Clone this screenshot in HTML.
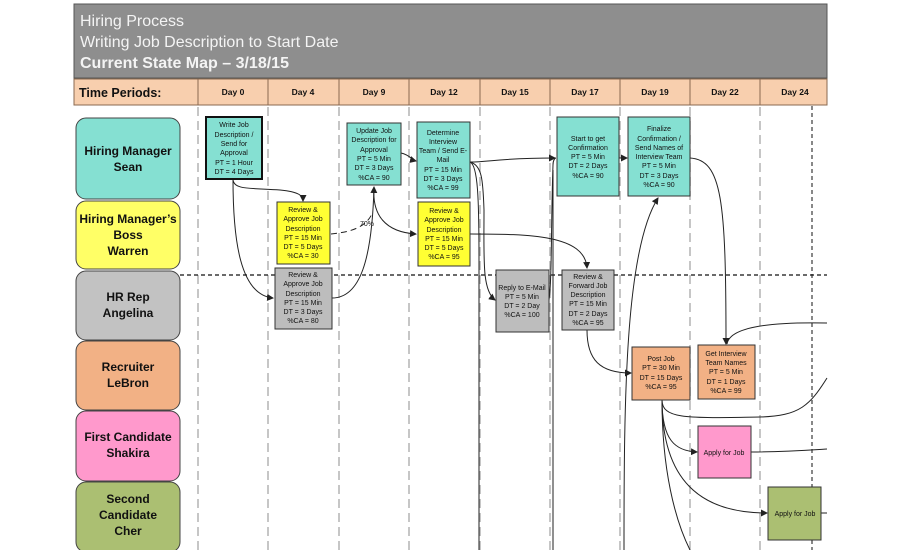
<!DOCTYPE html>
<html><head><meta charset="utf-8"><style>
html,body{margin:0;padding:0;background:#fff;width:900px;height:550px;overflow:hidden}
svg{display:block}
text{font-family:"Liberation Sans",sans-serif}
.b{font-size:7px;fill:#111;text-anchor:middle}
.lane{font-size:12px;font-weight:bold;fill:#111;text-anchor:middle}
.day{font-size:8.5px;font-weight:bold;fill:#111;text-anchor:middle}
.c{fill:none;stroke:#222;stroke-width:1}
</style></head><body>
<svg width="900" height="550" viewBox="0 0 900 550">
<defs><marker id="a" markerWidth="7" markerHeight="7" refX="6" refY="3.5" orient="auto"><path d="M0,0 L7,3.5 L0,7 z" fill="#222"/></marker></defs>
<rect x="0" y="0" width="900" height="550" fill="#fff"/>
<rect x="74" y="4" width="753" height="74" fill="#8e8e8e" stroke="#555"/>
<text x="80" y="26" font-size="16" fill="#f4f4f4">Hiring Process</text>
<text x="80" y="47" font-size="16" fill="#f4f4f4">Writing Job Description to Start Date</text>
<text x="80" y="68" font-size="16" font-weight="bold" fill="#f4f4f4">Current State Map – 3/18/15</text>
<g fill="#f8cfae" stroke="#8a6a50" stroke-width="1">
<rect x="74" y="79" width="124" height="26"/>
<rect x="198" y="79" width="70" height="26"/><rect x="268" y="79" width="71" height="26"/>
<rect x="339" y="79" width="70" height="26"/><rect x="409" y="79" width="71" height="26"/>
<rect x="480" y="79" width="70" height="26"/><rect x="550" y="79" width="70" height="26"/>
<rect x="620" y="79" width="70" height="26"/><rect x="690" y="79" width="70" height="26"/>
<rect x="760" y="79" width="67" height="26"/>
</g>
<text x="79" y="97" font-size="12.5" font-weight="bold" fill="#111">Time Periods:</text>
<text class="day" x="233" y="95">Day 0</text><text class="day" x="303" y="95">Day 4</text>
<text class="day" x="374" y="95">Day 9</text><text class="day" x="444" y="95">Day 12</text>
<text class="day" x="515" y="95">Day 15</text><text class="day" x="585" y="95">Day 17</text>
<text class="day" x="655" y="95">Day 19</text><text class="day" x="725" y="95">Day 22</text>
<text class="day" x="795" y="95">Day 24</text>
<g stroke="#b4b4b4" stroke-width="1.5" stroke-dasharray="9,5">
<line x1="198" y1="107" x2="198" y2="550"/><line x1="268" y1="107" x2="268" y2="550"/>
<line x1="339" y1="107" x2="339" y2="550"/><line x1="409" y1="107" x2="409" y2="550"/>
<line x1="480" y1="107" x2="480" y2="550"/><line x1="550" y1="107" x2="550" y2="550"/>
<line x1="620" y1="107" x2="620" y2="550"/><line x1="690" y1="107" x2="690" y2="550"/>
<line x1="760" y1="107" x2="760" y2="550"/>
</g>
<line x1="812" y1="106" x2="812" y2="550" stroke="#111" stroke-dasharray="4,3"/>
<line x1="180" y1="275" x2="827" y2="275" stroke="#111" stroke-width="1.2" stroke-dasharray="4,3"/>
<g stroke="#444" stroke-width="1">
<rect x="76" y="118" width="104" height="81" rx="10" fill="#85e0d2"/>
<rect x="76" y="201" width="104" height="68" rx="10" fill="#ffff66"/>
<rect x="76" y="271" width="104" height="69" rx="10" fill="#c2c2c2"/>
<rect x="76" y="341" width="104" height="69" rx="10" fill="#f2b185"/>
<rect x="76" y="411" width="104" height="70" rx="10" fill="#ff99cc"/>
<rect x="76" y="482" width="104" height="70" rx="10" fill="#abbf72"/>
</g>
<text class="lane" x="128" y="155">Hiring Manager</text><text class="lane" x="128" y="171">Sean</text>
<text class="lane" x="128" y="223">Hiring Manager’s</text><text class="lane" x="128" y="239">Boss</text><text class="lane" x="128" y="255">Warren</text>
<text class="lane" x="128" y="301">HR Rep</text><text class="lane" x="128" y="317">Angelina</text>
<text class="lane" x="128" y="371">Recruiter</text><text class="lane" x="128" y="387">LeBron</text>
<text class="lane" x="128" y="441">First Candidate</text><text class="lane" x="128" y="457">Shakira</text>
<text class="lane" x="128" y="503">Second</text><text class="lane" x="128" y="519">Candidate</text><text class="lane" x="128" y="535">Cher</text>
<g class="c">
<path d="M233,179 C233,190 250,188 280,190 C300,192 303,196 303,201" marker-end="url(#a)"/>
<path d="M233,179 C233,240 240,295 273,298" marker-end="url(#a)"/>
<path d="M331,234 C350,232 365,228 372,214" stroke-dasharray="6,4"/>
<path d="M332,298 C360,298 372,260 374,187" marker-end="url(#a)"/>
<path d="M374,187 C372,215 385,232 416,234" marker-end="url(#a)"/>
<path d="M401,153 C410,155 412,160 416,161" marker-end="url(#a)"/>
<path d="M470,162 C490,162 500,158 555,158" marker-end="url(#a)"/>
<path d="M470,162 C482,165 483,180 484,210 C484,260 482,290 495,300" marker-end="url(#a)"/>
<path d="M470,162 C478,165 479,200 479,260 L479,550"/>
<path d="M470,234 C530,234 585,235 587,268" marker-end="url(#a)"/>
<path d="M549,300 C552,280 551,220 553,165 C553,160 555,158 556,158"/>
<path d="M553,170 L553,550"/>
<path d="M619,158 L627,158" marker-end="url(#a)"/>
<path d="M587,330 C587,360 600,373 631,373" marker-end="url(#a)"/>
<path d="M624,550 C624,400 625,250 658,198" marker-end="url(#a)"/>
<path d="M690,158 C722,160 726,200 726,344" marker-end="url(#a)"/>
<path d="M827,323 C780,322 730,325 727,344"/>
<path d="M662,400 C662,420 690,418 760,417 C800,416 810,405 827,378"/>
<path d="M662,400 C662,440 675,451 697,452" marker-end="url(#a)"/>
<path d="M662,400 C662,480 700,513 767,513" marker-end="url(#a)"/>
<path d="M662,400 C662,470 675,520 690,550"/>
<path d="M751,452 C780,452 810,450 827,449"/>
<path d="M821,513 L827,513"/>
</g>
<text x="360" y="226" font-size="7" fill="#111">70%</text>
<g stroke="#333" stroke-width="1">
<rect x="206" y="117" width="56" height="62" fill="#85e0d2" stroke="#111" stroke-width="2"/>
<rect x="277" y="202" width="53" height="62" fill="#ffff33"/>
<rect x="275" y="268" width="57" height="61" fill="#bdbdbd"/>
<rect x="347" y="123" width="54" height="62" fill="#85e0d2"/>
<rect x="417" y="122" width="53" height="76" fill="#85e0d2"/>
<rect x="418" y="202" width="52" height="64" fill="#ffff33"/>
<rect x="496" y="270" width="53" height="62" fill="#bdbdbd"/>
<rect x="562" y="270" width="52" height="60" fill="#bdbdbd"/>
<rect x="557" y="117" width="62" height="79" fill="#85e0d2"/>
<rect x="628" y="117" width="62" height="79" fill="#85e0d2"/>
<rect x="632" y="347" width="58" height="53" fill="#f2b185"/>
<rect x="698" y="345" width="57" height="54" fill="#f2b185"/>
<rect x="698" y="426" width="53" height="52" fill="#ff99cc"/>
<rect x="768" y="487" width="53" height="53" fill="#abbf72"/>
</g>
<g>
<text class="b" x="234" y="127">Write Job</text><text class="b" x="234" y="137">Description /</text><text class="b" x="234" y="146">Send for</text><text class="b" x="234" y="155">Approval</text><text class="b" x="234" y="165">PT = 1 Hour</text><text class="b" x="234" y="174">DT = 4 Days</text>
<text class="b" x="303" y="212">Review &amp;</text><text class="b" x="303" y="221">Approve Job</text><text class="b" x="303" y="231">Description</text><text class="b" x="303" y="240">PT = 15 Min</text><text class="b" x="303" y="249">DT = 5 Days</text><text class="b" x="303" y="258">%CA = 30</text>
<text class="b" x="303" y="277">Review &amp;</text><text class="b" x="303" y="286">Approve Job</text><text class="b" x="303" y="296">Description</text><text class="b" x="303" y="305">PT = 15 Min</text><text class="b" x="303" y="314">DT = 3 Days</text><text class="b" x="303" y="323">%CA = 80</text>
<text class="b" x="374" y="133">Update Job</text><text class="b" x="374" y="142">Description for</text><text class="b" x="374" y="152">Approval</text><text class="b" x="374" y="161">PT = 5 Min</text><text class="b" x="374" y="170">DT = 3 Days</text><text class="b" x="374" y="180">%CA = 90</text>
<text class="b" x="443" y="135">Determine</text><text class="b" x="443" y="144">Interview</text><text class="b" x="443" y="153">Team / Send E-</text><text class="b" x="443" y="162">Mail</text><text class="b" x="443" y="172">PT = 15 Min</text><text class="b" x="443" y="181">DT = 3 Days</text><text class="b" x="443" y="190">%CA = 99</text>
<text class="b" x="444" y="213">Review &amp;</text><text class="b" x="444" y="222">Approve Job</text><text class="b" x="444" y="232">Description</text><text class="b" x="444" y="241">PT = 15 Min</text><text class="b" x="444" y="250">DT = 5 Days</text><text class="b" x="444" y="259">%CA = 95</text>
<text class="b" x="522" y="290">Reply to E-Mail</text><text class="b" x="522" y="299">PT = 5 Min</text><text class="b" x="522" y="308">DT = 2 Day</text><text class="b" x="522" y="317">%CA = 100</text>
<text class="b" x="588" y="279">Review &amp;</text><text class="b" x="588" y="288">Forward Job</text><text class="b" x="588" y="297">Description</text><text class="b" x="588" y="306">PT = 15 Min</text><text class="b" x="588" y="316">DT = 2 Days</text><text class="b" x="588" y="325">%CA = 95</text>
<text class="b" x="588" y="141">Start to get</text><text class="b" x="588" y="150">Confirmation</text><text class="b" x="588" y="159">PT = 5 Min</text><text class="b" x="588" y="168">DT = 2 Days</text><text class="b" x="588" y="178">%CA = 90</text>
<text class="b" x="659" y="131">Finalize</text><text class="b" x="659" y="141">Confirmation /</text><text class="b" x="659" y="150">Send Names of</text><text class="b" x="659" y="159">Interview Team</text><text class="b" x="659" y="168">PT = 5 Min</text><text class="b" x="659" y="178">DT = 3 Days</text><text class="b" x="659" y="187">%CA = 90</text>
<text class="b" x="661" y="361">Post Job</text><text class="b" x="661" y="370">PT = 30 Min</text><text class="b" x="661" y="380">DT = 15 Days</text><text class="b" x="661" y="389">%CA = 95</text>
<text class="b" x="726" y="356">Get Interview</text><text class="b" x="726" y="365">Team Names</text><text class="b" x="726" y="374">PT = 5 Min</text><text class="b" x="726" y="384">DT = 1 Days</text><text class="b" x="726" y="393">%CA = 99</text>
<text class="b" x="724" y="455">Apply for Job</text>
<text class="b" x="795" y="516">Apply for Job</text>
</g>
</svg>
</body></html>
